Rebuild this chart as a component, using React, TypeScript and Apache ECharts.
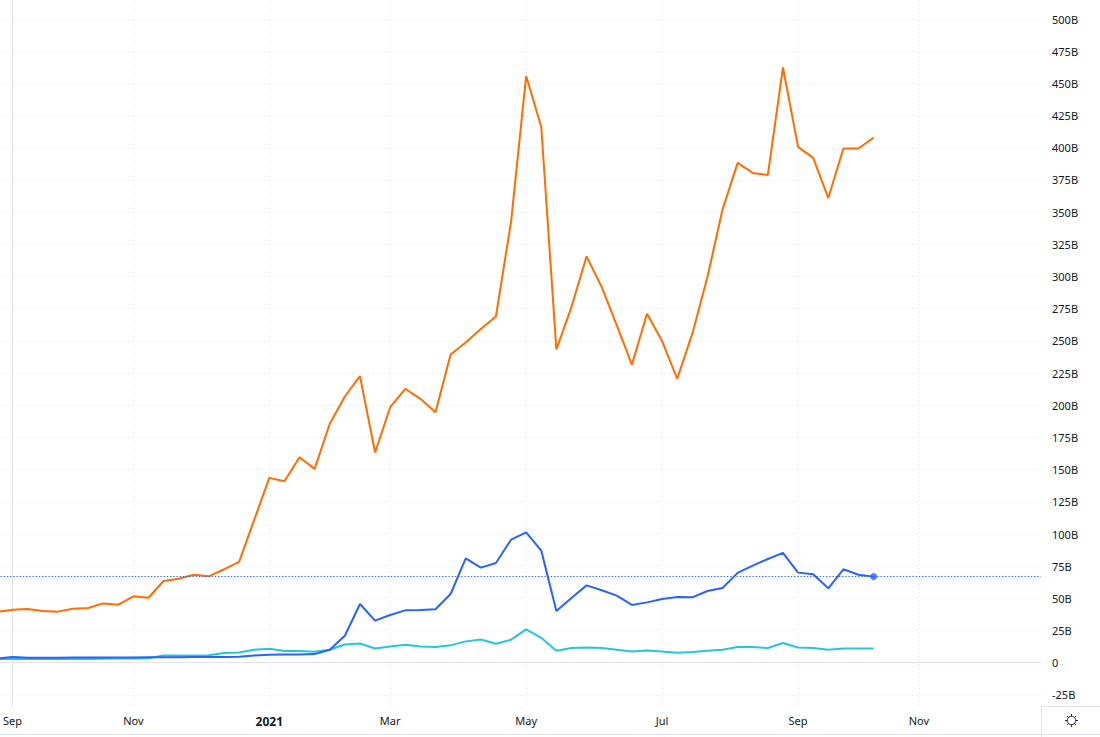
import React, { useEffect, useRef } from "react";
import * as echarts from "echarts";

// Weekly observations; index 0 = week of 2020-09-07, index -1 = previous week
const FIRST_WEEK = -1;

const orangeValues = [
  39.6, 41.2, 41.7, 40.2, 39.7, 42.0, 42.5, 46.1, 45.1, 51.6, 50.5, 63.5, 65.3, 68.4, 67.1, 72.6,
  78.3, 111.0, 143.6, 141.0, 159.6, 150.6, 185.6, 206.8, 222.6, 163.3, 198.5, 212.8, 205.0, 194.6,
  239.5, 248.8, 259.2, 269.0, 342.4, 455.7, 416.3, 243.4, 276.3, 315.7, 291.9, 262.0, 231.5, 271.1,
  249.9, 220.6, 255.6, 299.6, 352.0, 388.3, 380.5, 378.9, 462.4, 400.7, 392.2, 361.0, 399.5, 399.5,
  408.0,
];

const blueValues = [
  3.4, 4.4, 3.8, 3.8, 3.9, 4.0, 4.0, 4.0, 4.0, 4.1, 4.2, 4.3, 4.3, 4.4, 4.4, 4.5,
  4.7, 5.7, 6.2, 6.4, 6.5, 6.7, 10.1, 21.0, 45.6, 32.7, 37.1, 40.7, 41.0, 41.5,
  53.4, 81.1, 73.9, 77.5, 95.6, 101.3, 87.1, 40.2, 50.3, 60.1, 56.3, 52.1, 44.9, 46.9,
  49.5, 51.1, 50.8, 55.7, 58.1, 69.8, 75.4, 80.6, 85.3, 70.0, 68.7, 57.8, 72.6, 68.4,
  66.9,
];

const cyanValues = [
  2.8, 3.0, 2.9, 2.9, 3.0, 3.0, 3.0, 3.1, 3.2, 3.3, 3.5, 5.7, 5.7, 5.7, 5.8, 7.5,
  8.0, 10.1, 10.9, 9.1, 9.1, 8.6, 10.1, 14.2, 15.0, 11.1, 12.7, 14.0, 12.7, 12.2,
  13.5, 16.6, 18.1, 14.8, 17.9, 25.9, 19.4, 9.3, 11.4, 11.9, 11.4, 10.1, 8.8, 9.6,
  8.8, 7.8, 8.3, 9.3, 10.1, 12.2, 12.2, 11.4, 15.3, 11.9, 11.4, 10.1, 11.1, 11.1,
  11.1,
];

// Month tick labels (week index of first bar in month)
const tickWeeks = [0, 8, 17, 25, 34, 43, 52, 60];
const tickNames = ["Sep", "Nov", "2021", "Mar", "May", "Jul", "Sep", "Nov"];

// Price scale ticks (billions)
const yTicks = [-25, 0, 25, 50, 75, 100, 125, 150, 175, 200, 225, 250, 275, 300, 325, 350, 375, 400, 425, 450, 475, 500];

const X_MIN = -0.794;
const X_MAX = 68.08;
const Y_MIN = -33.6;
const Y_MAX = 514.8;

const FONT = "'Noto Sans', 'Liberation Sans', sans-serif";
const TEXT = "#131722";
const BORDER = "#e0e3eb";
const GRIDC = "#dfe2ea";

const toPairs = (vals: number[]) => vals.map((v, i) => [i + FIRST_WEEK, v]);

export default function App() {
  const ref = useRef<HTMLDivElement>(null);
  useEffect(() => {
    if (!ref.current) return;
    const chart = echarts.init(ref.current, undefined, { renderer: "svg" });
    const lastIdx = blueValues.length - 1 + FIRST_WEEK;
    const lastBlue = blueValues[blueValues.length - 1];

    const gearCx = 1071.5;
    const gearCy = 720.5;
    const gearSpokes = [0, 1, 2, 3, 4, 5, 6, 7].map((j) => {
      const a = (j * Math.PI) / 4;
      return {
        type: "line",
        shape: {
          x1: gearCx + Math.cos(a) * 4.2,
          y1: gearCy + Math.sin(a) * 4.2,
          x2: gearCx + Math.cos(a) * 6.4,
          y2: gearCy + Math.sin(a) * 6.4,
        },
        style: { stroke: TEXT, lineWidth: 1 },
        silent: true,
      };
    });

    chart.setOption({
      animation: false,
      backgroundColor: "#ffffff",
      grid: { left: 0, top: 0, right: 59, bottom: 31, containLabel: false },
      xAxis: {
        type: "value",
        min: X_MIN,
        max: X_MAX,
        axisLine: { show: true, lineStyle: { color: BORDER, width: 1 } },
        axisTick: { show: false, customValues: tickWeeks },
        axisLabel: {
          customValues: tickWeeks,
          margin: 9,
          color: TEXT,
          fontFamily: FONT,
          fontSize: 11,
          formatter: (v: number) => {
            const i = tickWeeks.indexOf(Math.round(v));
            const name = i >= 0 ? tickNames[i] : "";
            return /^\d{4}$/.test(name) ? "{b|" + name + "}" : name;
          },
          rich: { b: { fontWeight: "bold", fontSize: 12, color: TEXT, fontFamily: FONT } },
        },
        splitLine: { show: true, lineStyle: { color: GRIDC, type: [1, 3], width: 1 } },
      },
      yAxis: {
        type: "value",
        position: "right",
        min: Y_MIN,
        max: Y_MAX,
        axisLine: { show: true, lineStyle: { color: BORDER, width: 1 } },
        axisTick: { show: false, customValues: yTicks },
        axisLabel: {
          customValues: yTicks,
          margin: 11,
          color: TEXT,
          fontFamily: FONT,
          fontSize: 11,
          formatter: (v: number) => (v === 0 ? "0" : v + "B"),
        },
        splitLine: { show: true, lineStyle: { color: GRIDC, type: [1, 3], width: 1 } },
      },
      series: [
        {
          name: "cyan",
          type: "line",
          data: toPairs(cyanValues),
          showSymbol: false,
          symbol: "none",
          lineStyle: { color: "#26C6DA", width: 2 },
          itemStyle: { color: "#26C6DA" },
          z: 2,
        },
        {
          name: "blue",
          type: "line",
          data: toPairs(blueValues),
          showSymbol: false,
          symbol: "none",
          lineStyle: { color: "#2962FF", width: 2 },
          itemStyle: { color: "#2962FF" },
          z: 3,
          markLine: {
            silent: true,
            symbol: ["none", "none"],
            label: { show: false },
            emphasis: { disabled: true },
            lineStyle: { color: "#2962FF", type: [1.3, 1.9], width: 1.2 },
            data: [{ yAxis: lastBlue }],
          },
        },
        {
          name: "orange",
          type: "line",
          data: toPairs(orangeValues),
          showSymbol: false,
          symbol: "none",
          lineStyle: { color: "#FF6D00", width: 2 },
          itemStyle: { color: "#FF6D00" },
          z: 4,
        },
        {
          name: "blueLast",
          type: "scatter",
          data: [[lastIdx, lastBlue]],
          symbol: "circle",
          symbolSize: 7,
          itemStyle: { color: "#2962FF" },
          z: 5,
        },
      ],
      graphic: [
        { type: "line", shape: { x1: 1041, y1: 706.5, x2: 1100, y2: 706.5 }, style: { stroke: BORDER, lineWidth: 1 }, silent: true },
        { type: "line", shape: { x1: 0, y1: 734.5, x2: 1100, y2: 734.5 }, style: { stroke: BORDER, lineWidth: 1 }, silent: true },
        { type: "line", shape: { x1: 1041.5, y1: 706, x2: 1041.5, y2: 737 }, style: { stroke: BORDER, lineWidth: 1 }, silent: true },
        { type: "circle", shape: { cx: gearCx, cy: gearCy, r: 4.2 }, style: { stroke: TEXT, fill: "none", lineWidth: 1 }, silent: true },
        ...gearSpokes,
      ],
    });
    return () => chart.dispose();
  }, []);
  return (
    <div
      ref={ref}
      style={{ position: "absolute", left: 0, top: 0, width: 1100, height: 737 }}
    />
  );
}
